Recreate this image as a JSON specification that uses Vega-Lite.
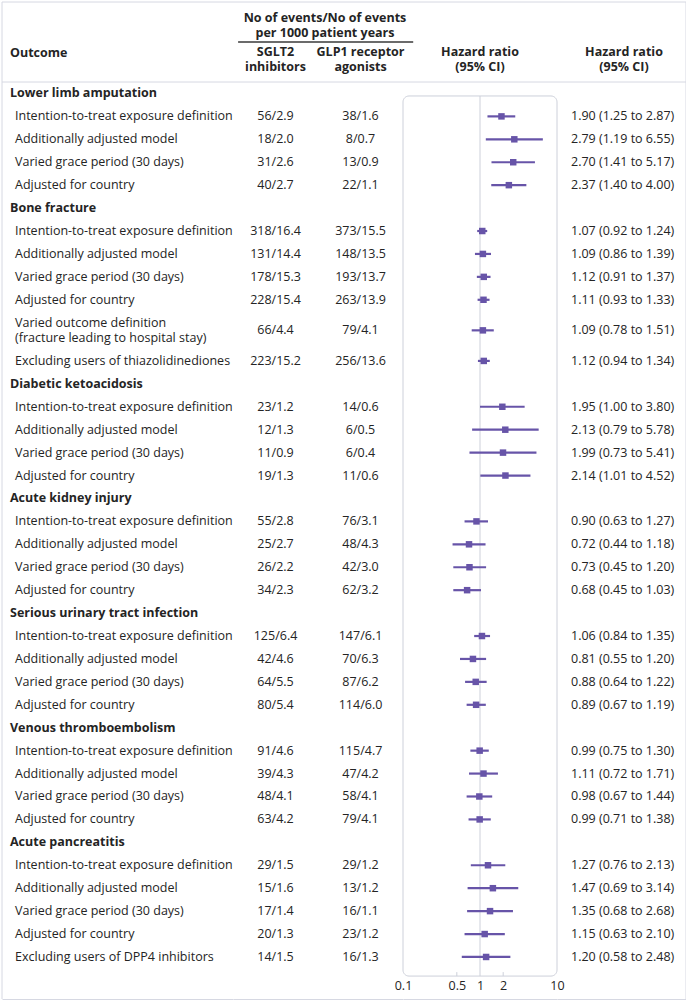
{
  "$schema": "https://vega.github.io/schema/vega-lite/v6.json",
  "padding": {"left": 1, "right": 1, "top": 1, "bottom": 1},
  "background": "white",
  "columns": 4,
  "spacing": 0,
  "bounds": "flush",
  "config": {
    "font": "Open Sans",
    "view": {"stroke": null},
    "text": {"fontSize": 12.5, "color": "#242424", "lineHeight": 15, "lineBreak": "\n"}
  },
  "datasets": {
    "rows": [
      {"id": "r00", "level": "group", "label": "Lower limb amputation"},
      {"id": "r01", "level": "item", "label": "Intention-to-treat exposure definition", "sglt2": "56/2.9", "glp1": "38/1.6", "hr": 1.90, "lo": 1.25, "hi": 2.87, "ci": "1.90 (1.25 to 2.87)"},
      {"id": "r02", "level": "item", "label": "Additionally adjusted model", "sglt2": "18/2.0", "glp1": "8/0.7", "hr": 2.79, "lo": 1.19, "hi": 6.55, "ci": "2.79 (1.19 to 6.55)"},
      {"id": "r03", "level": "item", "label": "Varied grace period (30 days)", "sglt2": "31/2.6", "glp1": "13/0.9", "hr": 2.70, "lo": 1.41, "hi": 5.17, "ci": "2.70 (1.41 to 5.17)"},
      {"id": "r04", "level": "item", "label": "Adjusted for country", "sglt2": "40/2.7", "glp1": "22/1.1", "hr": 2.37, "lo": 1.40, "hi": 4.00, "ci": "2.37 (1.40 to 4.00)"},
      {"id": "r05", "level": "group", "label": "Bone fracture"},
      {"id": "r06", "level": "item", "label": "Intention-to-treat exposure definition", "sglt2": "318/16.4", "glp1": "373/15.5", "hr": 1.07, "lo": 0.92, "hi": 1.24, "ci": "1.07 (0.92 to 1.24)"},
      {"id": "r07", "level": "item", "label": "Additionally adjusted model", "sglt2": "131/14.4", "glp1": "148/13.5", "hr": 1.09, "lo": 0.86, "hi": 1.39, "ci": "1.09 (0.86 to 1.39)"},
      {"id": "r08", "level": "item", "label": "Varied grace period (30 days)", "sglt2": "178/15.3", "glp1": "193/13.7", "hr": 1.12, "lo": 0.91, "hi": 1.37, "ci": "1.12 (0.91 to 1.37)"},
      {"id": "r09", "level": "item", "label": "Adjusted for country", "sglt2": "228/15.4", "glp1": "263/13.9", "hr": 1.11, "lo": 0.93, "hi": 1.33, "ci": "1.11 (0.93 to 1.33)"},
      {"id": "r10", "level": "item", "label": "Varied outcome definition\n(fracture leading to hospital stay)", "sglt2": "66/4.4", "glp1": "79/4.1", "hr": 1.09, "lo": 0.78, "hi": 1.51, "ci": "1.09 (0.78 to 1.51)"},
      {"id": "r11", "level": "item", "label": "Excluding users of thiazolidinediones", "sglt2": "223/15.2", "glp1": "256/13.6", "hr": 1.12, "lo": 0.94, "hi": 1.34, "ci": "1.12 (0.94 to 1.34)"},
      {"id": "r12", "level": "group", "label": "Diabetic ketoacidosis"},
      {"id": "r13", "level": "item", "label": "Intention-to-treat exposure definition", "sglt2": "23/1.2", "glp1": "14/0.6", "hr": 1.95, "lo": 1.00, "hi": 3.80, "ci": "1.95 (1.00 to 3.80)"},
      {"id": "r14", "level": "item", "label": "Additionally adjusted model", "sglt2": "12/1.3", "glp1": "6/0.5", "hr": 2.13, "lo": 0.79, "hi": 5.78, "ci": "2.13 (0.79 to 5.78)"},
      {"id": "r15", "level": "item", "label": "Varied grace period (30 days)", "sglt2": "11/0.9", "glp1": "6/0.4", "hr": 1.99, "lo": 0.73, "hi": 5.41, "ci": "1.99 (0.73 to 5.41)"},
      {"id": "r16", "level": "item", "label": "Adjusted for country", "sglt2": "19/1.3", "glp1": "11/0.6", "hr": 2.14, "lo": 1.01, "hi": 4.52, "ci": "2.14 (1.01 to 4.52)"},
      {"id": "r17", "level": "group", "label": "Acute kidney injury"},
      {"id": "r18", "level": "item", "label": "Intention-to-treat exposure definition", "sglt2": "55/2.8", "glp1": "76/3.1", "hr": 0.90, "lo": 0.63, "hi": 1.27, "ci": "0.90 (0.63 to 1.27)"},
      {"id": "r19", "level": "item", "label": "Additionally adjusted model", "sglt2": "25/2.7", "glp1": "48/4.3", "hr": 0.72, "lo": 0.44, "hi": 1.18, "ci": "0.72 (0.44 to 1.18)"},
      {"id": "r20", "level": "item", "label": "Varied grace period (30 days)", "sglt2": "26/2.2", "glp1": "42/3.0", "hr": 0.73, "lo": 0.45, "hi": 1.20, "ci": "0.73 (0.45 to 1.20)"},
      {"id": "r21", "level": "item", "label": "Adjusted for country", "sglt2": "34/2.3", "glp1": "62/3.2", "hr": 0.68, "lo": 0.45, "hi": 1.03, "ci": "0.68 (0.45 to 1.03)"},
      {"id": "r22", "level": "group", "label": "Serious urinary tract infection"},
      {"id": "r23", "level": "item", "label": "Intention-to-treat exposure definition", "sglt2": "125/6.4", "glp1": "147/6.1", "hr": 1.06, "lo": 0.84, "hi": 1.35, "ci": "1.06 (0.84 to 1.35)"},
      {"id": "r24", "level": "item", "label": "Additionally adjusted model", "sglt2": "42/4.6", "glp1": "70/6.3", "hr": 0.81, "lo": 0.55, "hi": 1.20, "ci": "0.81 (0.55 to 1.20)"},
      {"id": "r25", "level": "item", "label": "Varied grace period (30 days)", "sglt2": "64/5.5", "glp1": "87/6.2", "hr": 0.88, "lo": 0.64, "hi": 1.22, "ci": "0.88 (0.64 to 1.22)"},
      {"id": "r26", "level": "item", "label": "Adjusted for country", "sglt2": "80/5.4", "glp1": "114/6.0", "hr": 0.89, "lo": 0.67, "hi": 1.19, "ci": "0.89 (0.67 to 1.19)"},
      {"id": "r27", "level": "group", "label": "Venous thromboembolism"},
      {"id": "r28", "level": "item", "label": "Intention-to-treat exposure definition", "sglt2": "91/4.6", "glp1": "115/4.7", "hr": 0.99, "lo": 0.75, "hi": 1.30, "ci": "0.99 (0.75 to 1.30)"},
      {"id": "r29", "level": "item", "label": "Additionally adjusted model", "sglt2": "39/4.3", "glp1": "47/4.2", "hr": 1.11, "lo": 0.72, "hi": 1.71, "ci": "1.11 (0.72 to 1.71)"},
      {"id": "r30", "level": "item", "label": "Varied grace period (30 days)", "sglt2": "48/4.1", "glp1": "58/4.1", "hr": 0.98, "lo": 0.67, "hi": 1.44, "ci": "0.98 (0.67 to 1.44)"},
      {"id": "r31", "level": "item", "label": "Adjusted for country", "sglt2": "63/4.2", "glp1": "79/4.1", "hr": 0.99, "lo": 0.71, "hi": 1.38, "ci": "0.99 (0.71 to 1.38)"},
      {"id": "r32", "level": "group", "label": "Acute pancreatitis"},
      {"id": "r33", "level": "item", "label": "Intention-to-treat exposure definition", "sglt2": "29/1.5", "glp1": "29/1.2", "hr": 1.27, "lo": 0.76, "hi": 2.13, "ci": "1.27 (0.76 to 2.13)"},
      {"id": "r34", "level": "item", "label": "Additionally adjusted model", "sglt2": "15/1.6", "glp1": "13/1.2", "hr": 1.47, "lo": 0.69, "hi": 3.14, "ci": "1.47 (0.69 to 3.14)"},
      {"id": "r35", "level": "item", "label": "Varied grace period (30 days)", "sglt2": "17/1.4", "glp1": "16/1.1", "hr": 1.35, "lo": 0.68, "hi": 2.68, "ci": "1.35 (0.68 to 2.68)"},
      {"id": "r36", "level": "item", "label": "Adjusted for country", "sglt2": "20/1.3", "glp1": "23/1.2", "hr": 1.15, "lo": 0.63, "hi": 2.10, "ci": "1.15 (0.63 to 2.10)"},
      {"id": "r37", "level": "item", "label": "Excluding users of DPP4 inhibitors", "sglt2": "14/1.5", "glp1": "16/1.3", "hr": 1.20, "lo": 0.58, "hi": 2.48, "ci": "1.20 (0.58 to 2.48)"}
    ]
  },
  "concat": [
    {
      "width": 231, "height": 80,
      "data": {"values": [{}]},
      "layer": [
        {"mark": {"type": "rule", "color": "#d6d8e2"}, "encoding": {"y": {"datum": "H1", "type": "nominal", "bandPosition": 0, "scale": {"type": "band", "domain": ["H1", "H2"], "paddingInner": 0, "paddingOuter": 0}, "axis": null}}},
        {"mark": {"type": "rule", "color": "#d6d8e2"}, "encoding": {"y": {"datum": "H2", "type": "nominal", "bandPosition": 1, "axis": null}}},
        {"mark": {"type": "rule", "color": "#d6d8e2"}, "encoding": {"x": {"datum": "start", "type": "nominal", "scale": {"type": "point", "domain": ["start"], "padding": 0, "align": 0}, "axis": null}}},
        {"mark": {"type": "text", "align": "left", "dx": 8, "dy": -9, "fontWeight": "bold"}, "encoding": {"x": {"datum": "start", "type": "nominal", "axis": null}, "y": {"datum": "H2", "type": "nominal", "axis": null}, "text": {"value": "Outcome"}}}
      ]
    },
    {
      "width": 170, "height": 80,
      "data": {"values": [{}]},
      "layer": [
        {"mark": {"type": "rule", "color": "#d6d8e2"}, "encoding": {"y": {"datum": "H1", "type": "nominal", "bandPosition": 0, "scale": {"type": "band", "domain": ["H1", "H2"], "paddingInner": 0, "paddingOuter": 0}, "axis": null}}},
        {"mark": {"type": "rule", "color": "#d6d8e2"}, "encoding": {"y": {"datum": "H2", "type": "nominal", "bandPosition": 1, "axis": null}}},
        {"mark": {"type": "text", "dx": 7, "dy": -4.25, "fontWeight": "bold"}, "encoding": {"y": {"datum": "H1", "type": "nominal", "axis": null}, "text": {"value": "No of events/No of events\nper 1000 patient years"}}},
        {"mark": {"type": "rule", "color": "#3a3a3a", "strokeWidth": 1.3}, "encoding": {"x": {"datum": "SGLT2", "type": "nominal", "bandPosition": 0.06, "scale": {"type": "band", "domain": ["SGLT2", "GLP1"], "paddingInner": 0, "paddingOuter": 0}, "axis": null}, "x2": {"datum": "GLP1", "bandPosition": 1.12}, "y": {"datum": "H2", "type": "nominal", "bandPosition": 0, "axis": null}}},
        {"mark": {"type": "text", "dy": -9.75, "fontWeight": "bold"}, "encoding": {"x": {"datum": "SGLT2", "type": "nominal", "axis": null}, "y": {"datum": "H2", "type": "nominal", "axis": null}, "text": {"value": "SGLT2\ninhibitors"}}},
        {"mark": {"type": "text", "dy": -9.75, "fontWeight": "bold"}, "encoding": {"x": {"datum": "GLP1", "type": "nominal", "axis": null}, "y": {"datum": "H2", "type": "nominal", "axis": null}, "text": {"value": "GLP1 receptor\nagonists"}}}
      ]
    },
    {
      "width": 154, "height": 80,
      "data": {"values": [{}]},
      "layer": [
        {"mark": {"type": "rule", "color": "#d6d8e2"}, "encoding": {"y": {"datum": "H1", "type": "nominal", "bandPosition": 0, "scale": {"type": "band", "domain": ["H1", "H2"], "paddingInner": 0, "paddingOuter": 0}, "axis": null}}},
        {"mark": {"type": "rule", "color": "#d6d8e2"}, "encoding": {"y": {"datum": "H2", "type": "nominal", "bandPosition": 1, "axis": null}}},
        {"mark": {"type": "text", "dy": -9.75, "fontWeight": "bold"}, "encoding": {"y": {"datum": "H2", "type": "nominal", "axis": null}, "text": {"value": "Hazard ratio\n(95% CI)"}}}
      ]
    },
    {
      "width": 129, "height": 80,
      "data": {"values": [{}]},
      "layer": [
        {"mark": {"type": "rule", "color": "#d6d8e2"}, "encoding": {"y": {"datum": "H1", "type": "nominal", "bandPosition": 0, "scale": {"type": "band", "domain": ["H1", "H2"], "paddingInner": 0, "paddingOuter": 0}, "axis": null}}},
        {"mark": {"type": "rule", "color": "#d6d8e2"}, "encoding": {"y": {"datum": "H2", "type": "nominal", "bandPosition": 1, "axis": null}}},
        {"mark": {"type": "rule", "color": "#d6d8e2"}, "encoding": {"x": {"datum": "end", "type": "nominal", "scale": {"type": "point", "domain": ["start", "end"], "padding": 0, "align": 0}, "axis": null}}},
        {"mark": {"type": "text", "dx": 2.5, "dy": -9.75, "fontWeight": "bold"}, "encoding": {"y": {"datum": "H2", "type": "nominal", "axis": null}, "text": {"value": "Hazard ratio\n(95% CI)"}}}
      ]
    },
    {
      "width": 231, "height": 917,
      "data": {"name": "rows"},
      "layer": [
        {"transform": [{"filter": "datum.level == 'group'"}], "mark": {"type": "text", "align": "left", "dx": 8, "fontWeight": "bold"},
         "encoding": {
           "x": {"datum": "start", "type": "nominal", "scale": {"type": "point", "domain": ["start"], "padding": 0, "align": 0}, "axis": {"orient": "bottom", "labels": false, "ticks": false, "title": null, "domain": true, "domainColor": "#d6d8e2", "grid": false}},
           "y": {"field": "id", "type": "nominal", "scale": {"type": "band", "paddingInner": 0, "paddingOuter": 0, "domain": ["t0","r00","r00a","r00b","r01","r01a","r01b","r02","r02a","r02b","r03","r03a","r03b","r04","r04a","r04b","r05","r05a","r05b","r06","r06a","r06b","r07","r07a","r07b","r08","r08a","r08b","r09","r09a","r09b","x1","r10","r10a","r10b","x2","r11","r11a","r11b","r12","r12a","r12b","r13","r13a","r13b","r14","r14a","r14b","r15","r15a","r15b","r16","r16a","r16b","r17","r17a","r17b","r18","r18a","r18b","r19","r19a","r19b","r20","r20a","r20b","r21","r21a","r21b","r22","r22a","r22b","r23","r23a","r23b","r24","r24a","r24b","r25","r25a","r25b","r26","r26a","r26b","r27","r27a","r27b","r28","r28a","r28b","r29","r29a","r29b","r30","r30a","r30b","r31","r31a","r31b","r32","r32a","r32b","r33","r33a","r33b","r34","r34a","r34b","r35","r35a","r35b","r36","r36a","r36b","r37","r37a","r37b","b1","b2","b3"]}, "axis": null},
           "text": {"field": "label"}
         }},
        {"transform": [{"filter": "datum.level == 'item' && indexof(datum.label, '\\n') < 0"}], "mark": {"type": "text", "align": "left", "dx": 13},
         "encoding": {
           "x": {"datum": "start", "type": "nominal"},
           "y": {"field": "id", "type": "nominal", "axis": null},
           "text": {"field": "label"}
         }},
        {"transform": [{"filter": "datum.level == 'item' && indexof(datum.label, '\\n') >= 0"}], "mark": {"type": "text", "align": "left", "dx": 13, "dy": -7.5},
         "encoding": {
           "x": {"datum": "start", "type": "nominal"},
           "y": {"field": "id", "type": "nominal", "axis": null},
           "text": {"field": "label"}
         }},
        {"data": {"values": [{}]}, "mark": {"type": "rule", "color": "#d6d8e2"}, "encoding": {"x": {"datum": "start", "type": "nominal"}}}
      ]
    },
    {
      "width": 170, "height": 917,
      "data": {"name": "rows"},
      "transform": [{"filter": "datum.level == 'item'"}],
      "layer": [
        {"mark": {"type": "text"},
         "encoding": {
           "x": {"datum": "SGLT2", "type": "nominal", "scale": {"type": "band", "domain": ["SGLT2", "GLP1"], "paddingInner": 0, "paddingOuter": 0}, "axis": {"orient": "bottom", "labels": false, "ticks": false, "title": null, "domain": true, "domainColor": "#d6d8e2", "grid": false}},
           "y": {"field": "id", "type": "nominal", "scale": {"type": "band", "paddingInner": 0, "paddingOuter": 0, "domain": ["t0","r00","r00a","r00b","r01","r01a","r01b","r02","r02a","r02b","r03","r03a","r03b","r04","r04a","r04b","r05","r05a","r05b","r06","r06a","r06b","r07","r07a","r07b","r08","r08a","r08b","r09","r09a","r09b","x1","r10","r10a","r10b","x2","r11","r11a","r11b","r12","r12a","r12b","r13","r13a","r13b","r14","r14a","r14b","r15","r15a","r15b","r16","r16a","r16b","r17","r17a","r17b","r18","r18a","r18b","r19","r19a","r19b","r20","r20a","r20b","r21","r21a","r21b","r22","r22a","r22b","r23","r23a","r23b","r24","r24a","r24b","r25","r25a","r25b","r26","r26a","r26b","r27","r27a","r27b","r28","r28a","r28b","r29","r29a","r29b","r30","r30a","r30b","r31","r31a","r31b","r32","r32a","r32b","r33","r33a","r33b","r34","r34a","r34b","r35","r35a","r35b","r36","r36a","r36b","r37","r37a","r37b","b1","b2","b3"]}, "axis": null},
           "text": {"field": "sglt2"}
         }},
        {"mark": {"type": "text"},
         "encoding": {
           "x": {"datum": "GLP1", "type": "nominal"},
           "y": {"field": "id", "type": "nominal", "axis": null},
           "text": {"field": "glp1"}
         }}
      ]
    },
    {
      "width": 154, "height": 917,
      "layer": [
        {"data": {"values": [{}]},
         "mark": {"type": "rect", "fill": "white", "stroke": "#cdd0da", "strokeWidth": 1, "cornerRadius": 6},
         "encoding": {
           "x": {"datum": 0.1, "type": "quantitative", "scale": {"type": "log", "domain": [0.1, 10], "nice": false}, "axis": {"orient": "bottom", "values": [0.1, 0.5, 1, 2, 10], "format": "~g", "ticks": false, "tickSize": 0, "labelPadding": -14, "labelBaseline": "middle", "labelFontSize": 12.5, "labelColor": "#242424", "labelFlush": false, "labelOverlap": false, "title": null, "grid": false, "domain": true, "domainColor": "#d6d8e2"}},
           "x2": {"datum": 10},
           "y": {"datum": "r00", "type": "nominal", "bandPosition": 0.83, "scale": {"type": "band", "paddingInner": 0, "paddingOuter": 0, "domain": ["t0","r00","r00a","r00b","r01","r01a","r01b","r02","r02a","r02b","r03","r03a","r03b","r04","r04a","r04b","r05","r05a","r05b","r06","r06a","r06b","r07","r07a","r07b","r08","r08a","r08b","r09","r09a","r09b","x1","r10","r10a","r10b","x2","r11","r11a","r11b","r12","r12a","r12b","r13","r13a","r13b","r14","r14a","r14b","r15","r15a","r15b","r16","r16a","r16b","r17","r17a","r17b","r18","r18a","r18b","r19","r19a","r19b","r20","r20a","r20b","r21","r21a","r21b","r22","r22a","r22b","r23","r23a","r23b","r24","r24a","r24b","r25","r25a","r25b","r26","r26a","r26b","r27","r27a","r27b","r28","r28a","r28b","r29","r29a","r29b","r30","r30a","r30b","r31","r31a","r31b","r32","r32a","r32b","r33","r33a","r33b","r34","r34a","r34b","r35","r35a","r35b","r36","r36a","r36b","r37","r37a","r37b","b1","b2","b3"]}, "axis": null},
           "y2": {"datum": "r37b", "bandPosition": 1}
         }},
        {"data": {"values": [{}]},
         "mark": {"type": "rule", "color": "#cdd0da"},
         "encoding": {
           "x": {"datum": 1, "type": "quantitative"},
           "y": {"datum": "r00", "type": "nominal", "bandPosition": 0.83, "axis": null},
           "y2": {"datum": "r37b", "bandPosition": 1}
         }},
        {"data": {"values": [{"tick": 0.5}, {"tick": 2}]},
         "mark": {"type": "rule", "color": "#cdd0da"},
         "encoding": {
           "x": {"field": "tick", "type": "quantitative"},
           "y": {"datum": "r37b", "type": "nominal", "bandPosition": 0.48, "axis": null},
           "y2": {"datum": "r37b", "bandPosition": 1}
         }},
        {"data": {"name": "rows"}, "transform": [{"filter": "datum.level == 'item'"}],
         "mark": {"type": "rule", "color": "#6754a8", "strokeWidth": 2.2},
         "encoding": {
           "x": {"field": "lo", "type": "quantitative"},
           "x2": {"field": "hi"},
           "y": {"field": "id", "type": "nominal", "axis": null}
         }},
        {"data": {"name": "rows"}, "transform": [{"filter": "datum.level == 'item'"}],
         "mark": {"type": "point", "shape": "square", "filled": true, "size": 42, "color": "#6754a8", "opacity": 1},
         "encoding": {
           "x": {"field": "hr", "type": "quantitative"},
           "y": {"field": "id", "type": "nominal", "axis": null}
         }}
      ]
    },
    {
      "width": 129, "height": 917,
      "data": {"name": "rows"},
      "layer": [
        {"transform": [{"filter": "datum.level == 'item'"}], "mark": {"type": "text", "align": "left", "dx": 14},
         "encoding": {
           "x": {"datum": "start", "type": "nominal", "scale": {"type": "point", "domain": ["start", "end"], "padding": 0, "align": 0}, "axis": {"orient": "bottom", "labels": false, "ticks": false, "title": null, "domain": true, "domainColor": "#d6d8e2", "grid": false}},
           "y": {"field": "id", "type": "nominal", "scale": {"type": "band", "paddingInner": 0, "paddingOuter": 0, "domain": ["t0","r00","r00a","r00b","r01","r01a","r01b","r02","r02a","r02b","r03","r03a","r03b","r04","r04a","r04b","r05","r05a","r05b","r06","r06a","r06b","r07","r07a","r07b","r08","r08a","r08b","r09","r09a","r09b","x1","r10","r10a","r10b","x2","r11","r11a","r11b","r12","r12a","r12b","r13","r13a","r13b","r14","r14a","r14b","r15","r15a","r15b","r16","r16a","r16b","r17","r17a","r17b","r18","r18a","r18b","r19","r19a","r19b","r20","r20a","r20b","r21","r21a","r21b","r22","r22a","r22b","r23","r23a","r23b","r24","r24a","r24b","r25","r25a","r25b","r26","r26a","r26b","r27","r27a","r27b","r28","r28a","r28b","r29","r29a","r29b","r30","r30a","r30b","r31","r31a","r31b","r32","r32a","r32b","r33","r33a","r33b","r34","r34a","r34b","r35","r35a","r35b","r36","r36a","r36b","r37","r37a","r37b","b1","b2","b3"]}, "axis": null},
           "text": {"field": "ci"}
         }},
        {"data": {"values": [{}]}, "mark": {"type": "rule", "color": "#d6d8e2"}, "encoding": {"x": {"datum": "end", "type": "nominal"}}}
      ]
    }
  ]
}
